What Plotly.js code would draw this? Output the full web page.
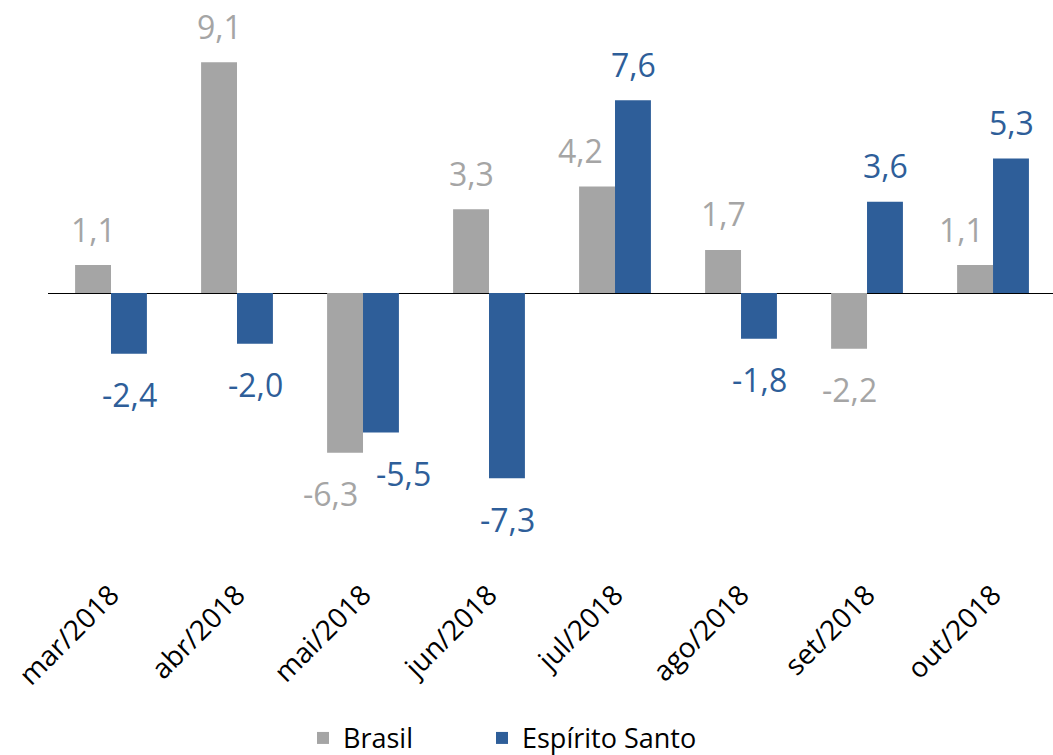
<!DOCTYPE html>
<html>
<head>
<meta charset="utf-8">
<script src="https://cdn.plot.ly/plotly-3.0.1.min.js"></script>
<style>html,body{margin:0;padding:0;background:#fff}#chart{width:1053px;height:755px}</style>
</head>
<body>
<div id="chart"></div>
<script>
var categories = ["mar/2018","abr/2018","mai/2018","jun/2018","jul/2018","ago/2018","set/2018","out/2018"];
var brasil = [1.1, 9.1, -6.3, 3.3, 4.2, 1.7, -2.2, 1.1];
var espiritoSanto = [-2.4, -2.0, -5.5, -7.3, 7.6, -1.8, 3.6, 5.3];
var seriesNames = ["Brasil", "Espírito Santo"];

var GRAY = "#A5A5A5", BLUE = "#2E5E99";
var FONT = "Open Sans, Noto Sans, sans-serif";

function fmt(v){ return v.toFixed(1).replace(".", ","); }

// manual label nudges (px) where labels were moved to avoid overlap
var nudgeBrasil = {2: -15, 4: -17, 7: -14};
var nudgeES = {2: 22};

var traces = [
  {type:"bar", name:seriesNames[0], x:categories, y:brasil, marker:{color:GRAY}, hoverinfo:"none", legend:"legend"},
  {type:"bar", name:seriesNames[1], x:categories, y:espiritoSanto, marker:{color:BLUE}, hoverinfo:"none", legend:"legend2"}
];

var annotations = [];
function addLabels(vals, color, offset, nudge){
  vals.forEach(function(v, i){
    annotations.push({
      x: categories[i], y: v, xref:"x", yref:"y",
      text: fmt(v), showarrow:false,
      xshift: offset + (nudge[i] || 0),
      yshift: v >= 0 ? 36 : -41,
      yanchor:"middle", xanchor:"center",
      font:{family:FONT, size:32, color:color}
    });
  });
}
addLabels(brasil, GRAY, -18, nudgeBrasil);
addLabels(espiritoSanto, BLUE, 18, nudgeES);

function legendAt(xpx){
  return {orientation:"h", xref:"container", yref:"container", x:xpx/1053, xanchor:"left", y:0.022, yanchor:"middle",
          font:{family:FONT, size:27, color:"#000"}, bgcolor:"rgba(0,0,0,0)"};
}

var layout = {
  width:1053, height:755,
  margin:{l:48, r:0, t:14, b:183},
  paper_bgcolor:"#fff", plot_bgcolor:"#fff",
  barmode:"group", bargap:0.43, bargroupgap:0,
  font:{family:FONT, color:"#000"},
  showlegend:true,
  legend: legendAt(303),
  legend2: legendAt(482),
  xaxis:{type:"category", range:[-0.5, 7.476], tickangle:-45, showline:false, ticks:"", showgrid:false,
         tickfont:{family:FONT, size:28, color:"#000"}},
  yaxis:{range:[-11, 11], showgrid:false, showticklabels:false, ticks:"", showline:false,
         zeroline:true, zerolinecolor:"#000", zerolinewidth:1},
  annotations: annotations
};

Plotly.newPlot("chart", traces, layout, {staticPlot:true});
</script>
</body>
</html>
